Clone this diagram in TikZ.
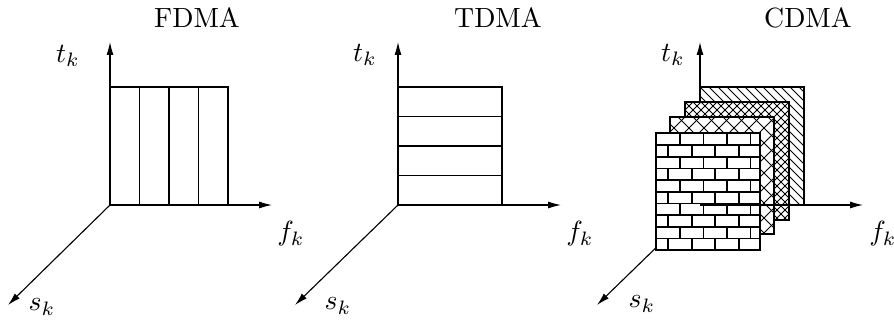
\documentclass[tikz,border=0pt]{standalone}
\usetikzlibrary{arrows.meta}
\tikzset{
  axis/.style={line width=0.4pt,-{Latex[length=4.6pt,width=2.5pt]}},
  frame/.style={line width=0.4pt},
  patline/.style={line width=0.3pt},
  brickline/.style={line width=0.6pt},
  lbl/.style={inner sep=0pt},
}
\begin{document}
\begin{tikzpicture}[x=0.36pt,y=-0.36pt]
\useasboundingbox (0,0) rectangle (894,321);
% ---------------- FDMA ----------------
\coordinate (O1) at (110,205);
\coordinate (T1) at (110,42);
\coordinate (F1) at (272,205);
\coordinate (S1) at (8,305);
\draw[axis] (O1) -- (T1);
\draw[axis] (O1) -- (F1);
\draw[axis] (O1) -- (S1);
\draw[frame] (110,87) rectangle (228,205);
\foreach \x in {139.5,169,198.5} \draw[frame] (\x,87) -- (\x,205);
\node[lbl] (tt1) at (197,18) {FDMA};
\node[lbl] (lt1) at (68,56) {$t_k$};
\node[lbl] (lf1) at (291,234) {$f_k$};
\node[lbl] (ls1) at (42,307) {$s_k$};
% ---------------- TDMA ----------------
\coordinate (O2) at (398,205);
\coordinate (T2) at (398,42);
\coordinate (F2) at (561,205);
\coordinate (S2) at (295,305);
\draw[axis] (O2) -- (T2);
\draw[axis] (O2) -- (F2);
\draw[axis] (O2) -- (S2);
\draw[frame] (398,87) rectangle (502,205);
\foreach \y in {116.5,146,175.5} \draw[frame] (398,\y) -- (502,\y);
\node[lbl] (tt2) at (498,18) {TDMA};
\node[lbl] (lt2) at (365,55) {$t_k$};
\node[lbl] (lf2) at (580,234) {$f_k$};
\node[lbl] (ls2) at (338,306) {$s_k$};
% ---------------- CDMA ----------------
\coordinate (O3) at (700,205);
\coordinate (T3) at (700,42);
\coordinate (F3) at (863,205);
\coordinate (S3) at (597,305);
\draw[axis] (O3) -- (T3);
\draw[axis] (O3) -- (S3);
% layer 1: north west lines
\begin{scope}
  \fill[white] (700,87) rectangle (804,205);
  \clip (700,87) rectangle (804,205);
  \foreach \k in {-126,-117,...,110} \draw[patline] (700+\k,87) -- ++(130,130);
\end{scope}
\draw[frame] (700,87) rectangle (804,205);
% layer 2: fine crosshatch
\begin{scope}
  \fill[white] (685,102) rectangle (789,220);
  \clip (685,102) rectangle (789,220);
  \foreach \k in {-128,-120,...,110} \draw[patline] (685+\k,102) -- ++(130,130);
  \foreach \k in {0,8,...,240} \draw[patline] (685+\k,102) -- ++(-130,130);
\end{scope}
\draw[frame] (685,102) rectangle (789,220);
% layer 3: coarse crosshatch
\begin{scope}
  \fill[white] (670,117) rectangle (774,234);
  \clip (670,117) rectangle (774,234);
  \foreach \k in {-127,-112,...,110} \draw[patline] (670+\k,117) -- ++(130,130);
  \foreach \k in {0,15,...,240} \draw[patline] (670+\k,117) -- ++(-130,130);
\end{scope}
\draw[frame] (670,117) rectangle (774,234);
% layer 4: bricks
\begin{scope}
  \fill[white] (656,133.3) rectangle (760,250.3);
  \clip (656,133.3) rectangle (760,250.3);
  \foreach \j in {1,...,9} \draw[brickline] (656,133.3+11.7*\j) -- (760,133.3+11.7*\j);
  \foreach \j in {0,2,...,8} {
    \foreach \x in {656.5,680,703.5,727,750.5}
      \draw[brickline] (\x,133.3+11.7*\j) -- ++(0,11.7);
  }
  \foreach \j in {1,3,...,9} {
    \foreach \x in {668.3,691.8,715.3,738.8}
      \draw[brickline] (\x,133.3+11.7*\j) -- ++(0,11.7);
  }
\end{scope}
\draw[brickline] (656,133.3) rectangle (760,250.3);
\draw[axis] (O3) -- (F3);
\node[lbl] (tt3) at (808,18) {CDMA};
\node[lbl] (lt3) at (673,55) {$t_k$};
\node[lbl] (lf3) at (883,234) {$f_k$};
\node[lbl] (ls3) at (642,304) {$s_k$};
\end{tikzpicture}
\end{document}
